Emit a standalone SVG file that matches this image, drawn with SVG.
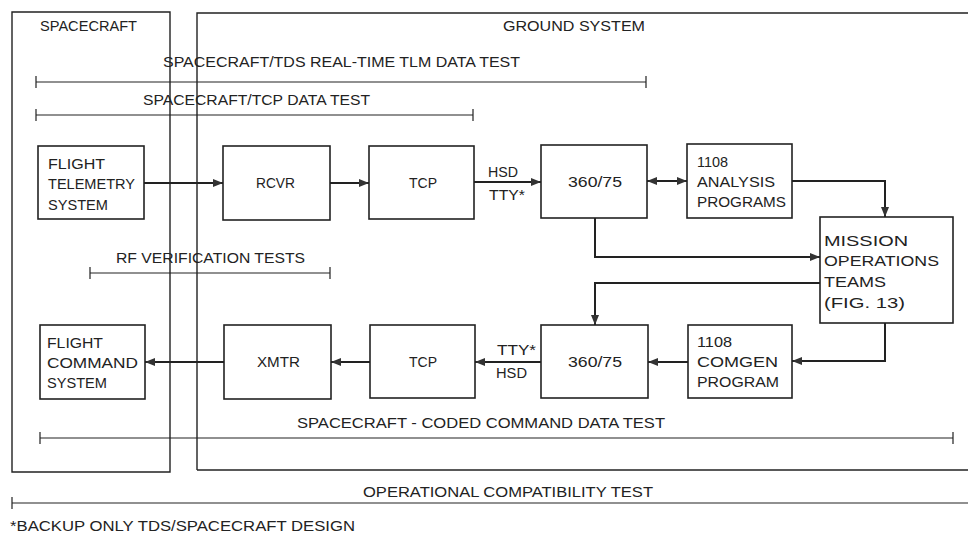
<svg xmlns="http://www.w3.org/2000/svg" width="968" height="538" viewBox="0 0 968 538">
<style>
text{font-family:"Liberation Sans",Arial,sans-serif;font-size:15px;fill:#222}
.c{text-anchor:middle}
.box{fill:#fff;stroke:#222;stroke-width:1.6}
.frame{fill:none;stroke:#222;stroke-width:1.4}
.cn{fill:none;stroke:#222;stroke-width:2}
.tl{fill:none;stroke:#222;stroke-width:1.2}
</style>
<defs>
<marker id="ah" viewBox="0 0 10 8" refX="10" refY="4" markerWidth="10" markerHeight="8" markerUnits="userSpaceOnUse" orient="auto-start-reverse">
<path d="M0,0 L10,4 L0,8 Z" fill="#333"/>
</marker>
</defs>
<rect width="968" height="538" fill="#fff"/>
<g id="frames">
<path class="frame" d="M12,12 H170 V472 H12 Z"/>
<path class="frame" d="M197,470 V13 H968"/>
<path class="frame" d="M197,470 H968"/>
<text x="40" y="31" textLength="97" lengthAdjust="spacingAndGlyphs">SPACECRAFT</text>
<text x="503" y="31" textLength="142" lengthAdjust="spacingAndGlyphs">GROUND SYSTEM</text>
</g>
<g id="tests">
<path class="tl" d="M36,76 V88 M36,82 H646 M646,76 V88"/>
<text x="163" y="67" textLength="357" lengthAdjust="spacingAndGlyphs">SPACECRAFT/TDS REAL-TIME TLM DATA TEST</text>
<path class="tl" d="M36,109 V121 M36,115 H473 M473,109 V121"/>
<text x="143" y="105" textLength="227" lengthAdjust="spacingAndGlyphs">SPACECRAFT/TCP DATA TEST</text>
<path class="tl" d="M90,267 V279 M90,273 H330 M330,267 V279"/>
<text x="116" y="263" textLength="189" lengthAdjust="spacingAndGlyphs">RF VERIFICATION TESTS</text>
<path class="tl" d="M40,432 V444 M40,438 H953 M953,432 V444"/>
<text x="297" y="428" textLength="368" lengthAdjust="spacingAndGlyphs">SPACECRAFT - CODED COMMAND DATA TEST</text>
<path class="tl" d="M12,497 V509 M12,503 H968"/>
<text x="363" y="497" textLength="290" lengthAdjust="spacingAndGlyphs">OPERATIONAL COMPATIBILITY TEST</text>
<text x="10" y="531" textLength="345" lengthAdjust="spacingAndGlyphs">*BACKUP ONLY TDS/SPACECRAFT DESIGN</text>
</g>
<g id="connectors">
<path class="cn" d="M144,183 H223" marker-end="url(#ah)"/>
<path class="cn" d="M330,183 H369" marker-end="url(#ah)"/>
<path class="cn" d="M474,182 H541" marker-end="url(#ah)"/>
<path class="cn" d="M647,181 H687" marker-start="url(#ah)" marker-end="url(#ah)"/>
<path class="cn" d="M792,181 H885 V217" marker-end="url(#ah)"/>
<path class="cn" d="M595,218 V257 H820" marker-end="url(#ah)"/>
<path class="cn" d="M820,283 H595 V325" marker-end="url(#ah)"/>
<path class="cn" d="M885,323 V361 H792" marker-end="url(#ah)"/>
<path class="cn" d="M688,362 H648" marker-end="url(#ah)"/>
<path class="cn" d="M541,362 H475" marker-end="url(#ah)"/>
<path class="cn" d="M370,362 H331" marker-end="url(#ah)"/>
<path class="cn" d="M224,362 H145" marker-end="url(#ah)"/>
<text x="488" y="177" textLength="30" lengthAdjust="spacingAndGlyphs">HSD</text>
<text x="489" y="200" textLength="36" lengthAdjust="spacingAndGlyphs">TTY*</text>
<text x="497" y="355" textLength="39" lengthAdjust="spacingAndGlyphs">TTY*</text>
<text x="496" y="378" textLength="31" lengthAdjust="spacingAndGlyphs">HSD</text>
</g>
<g id="flight-telemetry">
<rect class="box" x="38" y="146" width="106" height="73"/>
<text x="48" y="169" textLength="57" lengthAdjust="spacingAndGlyphs">FLIGHT</text>
<text x="48" y="189" textLength="87" lengthAdjust="spacingAndGlyphs">TELEMETRY</text>
<text x="48" y="210" textLength="60" lengthAdjust="spacingAndGlyphs">SYSTEM</text>
</g>
<g id="rcvr">
<rect class="box" x="223" y="146" width="107" height="74"/>
<text x="256" y="188" textLength="39" lengthAdjust="spacingAndGlyphs">RCVR</text>
</g>
<g id="tcp-top">
<rect class="box" x="369" y="146" width="105" height="73"/>
<text x="409" y="188" textLength="28" lengthAdjust="spacingAndGlyphs">TCP</text>
</g>
<g id="s360-top">
<rect class="box" x="541" y="145" width="106" height="73"/>
<text x="568" y="187" textLength="54" lengthAdjust="spacingAndGlyphs">360/75</text>
</g>
<g id="analysis">
<rect class="box" x="687" y="144" width="105" height="74"/>
<text x="697" y="167" textLength="31" lengthAdjust="spacingAndGlyphs">1108</text>
<text x="697" y="187" textLength="78" lengthAdjust="spacingAndGlyphs">ANALYSIS</text>
<text x="697" y="207" textLength="89" lengthAdjust="spacingAndGlyphs">PROGRAMS</text>
</g>
<g id="mission-ops">
<rect class="box" x="820" y="217" width="133" height="106"/>
<text x="824" y="246" textLength="84" lengthAdjust="spacingAndGlyphs">MISSION</text>
<text x="824" y="266" textLength="115" lengthAdjust="spacingAndGlyphs">OPERATIONS</text>
<text x="824" y="287" textLength="62" lengthAdjust="spacingAndGlyphs">TEAMS</text>
<text x="824" y="308" textLength="81" lengthAdjust="spacingAndGlyphs">(FIG. 13)</text>
</g>
<g id="flight-command">
<rect class="box" x="40" y="325" width="105" height="74"/>
<text x="47" y="348" textLength="56" lengthAdjust="spacingAndGlyphs">FLIGHT</text>
<text x="47" y="368" textLength="91" lengthAdjust="spacingAndGlyphs">COMMAND</text>
<text x="47" y="388" textLength="60" lengthAdjust="spacingAndGlyphs">SYSTEM</text>
</g>
<g id="xmtr">
<rect class="box" x="224" y="325" width="107" height="74"/>
<text x="257" y="367" textLength="43" lengthAdjust="spacingAndGlyphs">XMTR</text>
</g>
<g id="tcp-bottom">
<rect class="box" x="370" y="325" width="105" height="73"/>
<text x="409" y="367" textLength="28" lengthAdjust="spacingAndGlyphs">TCP</text>
</g>
<g id="s360-bottom">
<rect class="box" x="541" y="325" width="107" height="73"/>
<text x="568" y="367" textLength="54" lengthAdjust="spacingAndGlyphs">360/75</text>
</g>
<g id="comgen">
<rect class="box" x="688" y="325" width="104" height="73"/>
<text x="697" y="347" textLength="35" lengthAdjust="spacingAndGlyphs">1108</text>
<text x="697" y="367" textLength="81" lengthAdjust="spacingAndGlyphs">COMGEN</text>
<text x="697" y="387" textLength="82" lengthAdjust="spacingAndGlyphs">PROGRAM</text>
</g>
</svg>
